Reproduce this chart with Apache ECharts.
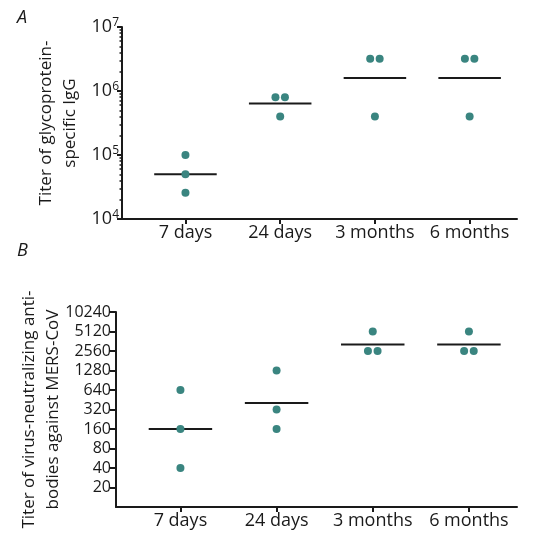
<!DOCTYPE html>
<html><head><meta charset="utf-8">
<script src="https://cdn.jsdelivr.net/npm/echarts@6/dist/echarts.min.js"></script>
<style>html,body{margin:0;padding:0;background:#fff}#c{width:555px;height:556px}</style>
</head><body><div id="c"></div>
<script>
// ---- data ----
const categories = ['7 days', '24 days', '3 months', '6 months'];
// Panel A: titer of glycoprotein-specific IgG
const igg7d = [100000, 50000, 25600];
const igg24d = [800000, 800000, 400000];
const igg3m = [3200000, 3200000, 400000];
const igg6m = [3200000, 3200000, 400000];
const iggMean = [50000, 635000, 1600000, 1600000];
const iggTicks = [10000, 100000, 1000000, 10000000];
// Panel B: titer of virus-neutralizing antibodies against MERS-CoV
const vn7d = [640, 160, 40];
const vn24d = [1280, 320, 160];
const vn3m = [5120, 2560, 2560];
const vn6m = [5120, 2560, 2560];
const vnMean = [160, 403, 3225, 3225];
const vnTicks = [20, 40, 80, 160, 320, 640, 1280, 2560, 5120, 10240];

const FONT = 'Open Sans';
const DOT = '#3a8580';
const INK = '#1a1a1a';

const iggGroups = [igg7d, igg24d, igg3m, igg6m];
const vnGroups = [vn7d, vn24d, vn3m, vn6m];

// place dots: equal values side by side around the category centre
function dots(groups) {
  const out = [];
  groups.forEach((g, i) => {
    const counts = {};
    g.forEach(v => counts[v] = (counts[v] || 0) + 1);
    const seen = {};
    g.forEach(v => {
      const n = counts[v];
      const k = seen[v] = (seen[v] || 0) + 1;
      const off = n > 1 ? (k - 1 - (n - 1) / 2) * 0.1 : 0;
      out.push([i + off, v]);
    });
  });
  return out;
}
function minorTicks(lo, hi) {
  const r = [];
  for (let d = lo; d < hi; d *= 10) for (let m = 2; m <= 9; m++) r.push(m * d);
  return r;
}

function meanSeries(xi, yi, means) {
  return {
    type: 'custom', xAxisIndex: xi, yAxisIndex: yi, z: 3,
    data: means.map((m, i) => [i, m]),
    renderItem: (params, api) => {
      const i = api.value(0), m = api.value(1);
      const a = api.coord([i - 0.33, m]);
      const b = api.coord([i + 0.33, m]);
      return {type: 'line', shape: {x1: a[0], y1: a[1], x2: b[0], y2: b[1]},
              style: {stroke: INK, lineWidth: 2}};
    }
  };
}

const xBase = (gi) => ({
  type: 'value', gridIndex: gi, min: -0.67, max: 3.5,
  axisLine: {show: true, onZero: false, lineStyle: {color: INK, width: 2}},
  axisTick: {show: true, length: 5, lineStyle: {color: INK, width: 2}, customValues: [0, 1, 2, 3]},
  axisLabel: {customValues: [0, 1, 2, 3], formatter: v => categories[Math.round(v)],
              fontFamily: FONT, fontSize: 18, color: INK, margin: 5},
  splitLine: {show: false}
});

const option = {
  animation: false,
  backgroundColor: '#fff',
  textStyle: {fontFamily: FONT},
  grid: [
    {left: 122, top: 27, width: 395, height: 192},
    {left: 116, top: 312, width: 401, height: 195}
  ],
  xAxis: [xBase(0), xBase(1)],
  yAxis: [
    {
      type: 'log', logBase: 10, gridIndex: 0, min: 10000, max: 10000000, position: 'left',
      axisLine: {show: true, onZero: false, lineStyle: {color: INK, width: 2}},
      axisTick: {show: true, length: 5, lineStyle: {color: INK, width: 2}, customValues: iggTicks},
      axisLabel: {
        customValues: iggTicks, margin: 3, color: INK, fontFamily: FONT, fontSize: 18,
        formatter: v => '10{s|' + Math.round(Math.log10(v)) + '}',
        rich: {s: {fontSize: 12, fontFamily: FONT, color: INK, verticalAlign: 'top', padding: [0, 0, 9, 0]}}
      },
      splitLine: {show: false},
      name: 'Titer of glycoprotein-\nspecific IgG', nameLocation: 'middle', nameRotate: 90, nameGap: 40,
      nameMoveOverlap: false,
      nameTextStyle: {fontFamily: FONT, fontSize: 17, color: INK, lineHeight: 24}
    },
    {
      type: 'log', logBase: 10, gridIndex: 0, min: 10000, max: 10000000, position: 'left',
      axisLine: {show: false, onZero: false},
      axisTick: {show: true, length: 2.5, lineStyle: {color: INK, width: 1.5}, customValues: minorTicks(10000, 10000000)},
      axisLabel: {show: false}, splitLine: {show: false}
    },
    {
      type: 'log', logBase: 2, gridIndex: 1, min: 10, max: 10240, position: 'left',
      axisLine: {show: true, onZero: false, lineStyle: {color: INK, width: 2}},
      axisTick: {show: true, length: 6, lineStyle: {color: INK, width: 2}, customValues: vnTicks},
      axisLabel: {customValues: vnTicks, margin: 5, color: INK, fontFamily: FONT, fontSize: 16,
                  formatter: v => String(Math.round(v))},
      splitLine: {show: false},
      name: 'Titer of virus-neutralizing anti-\nbodies against MERS-CoV', nameLocation: 'middle', nameRotate: 90, nameGap: 51,
      nameMoveOverlap: false,
      nameTextStyle: {fontFamily: FONT, fontSize: 17, color: INK, lineHeight: 24}
    }
  ],
  graphic: [
    {type: 'text', left: 17, top: 9, style: {text: 'A', fontFamily: FONT, fontStyle: 'italic', fontSize: 18, fill: INK}},
    {type: 'text', left: 17, top: 242, style: {text: 'B', fontFamily: FONT, fontStyle: 'italic', fontSize: 18, fill: INK}}
  ],
  series: [
    {type: 'scatter', xAxisIndex: 0, yAxisIndex: 0, symbolSize: 8, itemStyle: {color: DOT, opacity: 1}, data: dots(iggGroups), z: 4},
    meanSeries(0, 0, iggMean),
    {type: 'scatter', xAxisIndex: 1, yAxisIndex: 2, symbolSize: 8, itemStyle: {color: DOT, opacity: 1}, data: dots(vnGroups), z: 4},
    meanSeries(1, 2, vnMean)
  ]
};
echarts.init(document.getElementById('c'), null, {renderer: 'canvas'}).setOption(option);
</script></body></html>
